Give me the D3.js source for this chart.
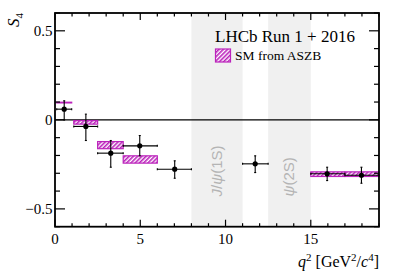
<!DOCTYPE html>
<html><head><meta charset="utf-8">
<script src="https://cdn.jsdelivr.net/npm/d3@7"></script>
<style>body{margin:0;background:#fff}</style>
</head><body>
<svg id="c" width="399" height="271"></svg>
<script>
// Data (LHCb S4 vs q^2)
const binLo = [0.1, 1.1, 2.5, 4.0, 6.0, 11.0, 15.0, 17.0];
const binHi = [0.98, 2.5, 4.0, 6.0, 8.0, 12.5, 17.0, 19.0];
const xMean = [0.54, 1.81, 3.27, 4.97, 7.02, 11.74, 15.96, 17.97];
const s4 = [0.060, -0.037, -0.187, -0.146, -0.277, -0.247, -0.303, -0.311];
const errHi = [0.047, 0.069, 0.071, 0.058, 0.047, 0.045, 0.037, 0.045];
const errLo = [0.060, 0.079, 0.079, 0.056, 0.051, 0.049, 0.038, 0.045];
// SM prediction (ASZB)
const smLo = [0.1, 1.1, 2.5, 4.0, 15.0, 17.0];
const smHi = [0.98, 2.5, 4.0, 6.0, 17.0, 19.0];
const smBot = [0.095, -0.024, -0.162, -0.243, -0.318, -0.318];
const smTop = [0.099, -0.004, -0.122, -0.202, -0.292, -0.292];
// Vetoed resonance regions
const vetoLo = [8.0, 12.5];
const vetoHi = [11.0, 15.0];
const vetoLabel = ["J/ψ(1S)", "ψ(2S)"];
const xTicks = [0, 5, 10, 15];
const yTicks = [-0.5, 0, 0.5];

const svg = d3.select("#c");
const L = 55, T = 13, R = 379, B = 226.7;
const x = d3.scaleLinear().domain([0, 19]).range([L, R]);
const y = d3.scaleLinear().domain([-0.6, 0.6]).range([B, T]);
const mag = "#bb22bb";

const defs = svg.append("defs");
const pat = defs.append("pattern").attr("id", "hatch").attr("patternUnits", "userSpaceOnUse")
  .attr("width", 3).attr("height", 3).attr("patternTransform", "rotate(45)");
pat.append("rect").attr("width", 3).attr("height", 3).attr("fill", "#fff");
pat.append("rect").attr("width", 1.6).attr("height", 3).attr("fill", mag);

// veto bands
vetoLo.forEach((v, i) => {
  svg.append("rect").attr("x", x(v)).attr("y", T).attr("width", x(vetoHi[i]) - x(v))
    .attr("height", B - T).attr("fill", "#f0f0f0");
  const cx = (x(v) + x(vetoHi[i])) / 2;
  const t = svg.append("text").attr("transform", `translate(${cx + 5},${y(-0.43)}) rotate(-90)`)
    .attr("font-family", "Liberation Sans, Arial, sans-serif").attr("font-size", 15)
    .attr("fill", "#b4b4b4").attr("text-anchor", "start");
  if (i === 0) {
    t.append("tspan").attr("font-style", "italic").text("J");
    t.append("tspan").text("/");
    t.append("tspan").attr("font-style", "italic").text("ψ");
    t.append("tspan").text("(1S)");
  } else {
    t.append("tspan").attr("font-style", "italic").text("ψ");
    t.append("tspan").text("(2S)");
  }
});

// zero line
svg.append("line").attr("x1", L).attr("x2", R).attr("y1", y(0)).attr("y2", y(0))
  .attr("stroke", "#000").attr("stroke-width", 1.4);

// SM boxes
smLo.forEach((v, i) => {
  svg.append("rect").attr("x", x(v)).attr("y", y(smTop[i]))
    .attr("width", x(smHi[i]) - x(v)).attr("height", Math.max(0.5, y(smBot[i]) - y(smTop[i])))
    .attr("fill", "url(#hatch)").attr("stroke", mag).attr("stroke-width", 1.2);
});

// data points
const g = svg.append("g").attr("stroke", "#000").attr("stroke-width", 1.1);
s4.forEach((v, i) => {
  g.append("line").attr("x1", x(binLo[i])).attr("x2", x(binHi[i])).attr("y1", y(v)).attr("y2", y(v));
  g.append("line").attr("x1", x(xMean[i])).attr("x2", x(xMean[i]))
    .attr("y1", y(v + errHi[i])).attr("y2", y(v - errLo[i]));
  [binLo[i], binHi[i]].forEach(b => g.append("line").attr("x1", x(b)).attr("x2", x(b))
    .attr("y1", y(v) - 1).attr("y2", y(v) + 1));
  [v + errHi[i], v - errLo[i]].forEach(e => g.append("line").attr("x1", x(xMean[i]) - 1)
    .attr("x2", x(xMean[i]) + 1).attr("y1", y(e)).attr("y2", y(e)));
  svg.append("circle").attr("cx", x(xMean[i])).attr("cy", y(v)).attr("r", 2.6).attr("fill", "#000");
});

// frame
svg.append("rect").attr("x", L).attr("y", T).attr("width", R - L).attr("height", B - T)
  .attr("fill", "none").attr("stroke", "#000").attr("stroke-width", 1.8);

// ticks (inward, all four sides)
const tk = svg.append("g").attr("stroke", "#000").attr("stroke-width", 1.2);
d3.range(0, 19.01, 1).forEach(v => {
  const major = xTicks.includes(v);
  const len = major ? 7 : 3.5;
  tk.append("line").attr("x1", x(v)).attr("x2", x(v)).attr("y1", B).attr("y2", B - len);
  tk.append("line").attr("x1", x(v)).attr("x2", x(v)).attr("y1", T).attr("y2", T + len);
});
d3.range(-6, 7, 1).forEach(k => {
  const v = k / 10;
  const major = (k % 5 === 0);
  const len = major ? 10 : 5;
  tk.append("line").attr("x1", L).attr("x2", L + len).attr("y1", y(v)).attr("y2", y(v));
  tk.append("line").attr("x1", R).attr("x2", R - len).attr("y1", y(v)).attr("y2", y(v));
});

const serif = "Liberation Serif, Times New Roman, serif";
// tick labels
xTicks.forEach(v => svg.append("text").attr("x", x(v)).attr("y", 243.5)
  .attr("text-anchor", "middle").attr("font-family", serif).attr("font-size", 15).text(v));
yTicks.forEach(v => svg.append("text").attr("x", 52.5).attr("y", y(v)).attr("dy", "0.33em")
  .attr("text-anchor", "end").attr("font-family", serif).attr("font-size", 15)
  .text(v === 0 ? "0" : (v < 0 ? "\u22120.5" : "0.5")));

// axis titles
const xt = svg.append("text").attr("x", R).attr("y", 267).attr("text-anchor", "end")
  .attr("font-family", serif).attr("font-size", 16);
xt.append("tspan").attr("font-style", "italic").text("q");
xt.append("tspan").attr("font-size", 11).attr("dy", -6).text("2");
xt.append("tspan").attr("dy", 6).text(" [GeV");
xt.append("tspan").attr("font-size", 11).attr("dy", -6).text("2");
xt.append("tspan").attr("dy", 6).text("/");
xt.append("tspan").attr("font-style", "italic").text("c");
xt.append("tspan").attr("font-size", 11).attr("dy", -6).text("4");
xt.append("tspan").attr("dy", 6).text("]");

const yt = svg.append("text").attr("transform", `translate(18.5,13) rotate(-90)`)
  .attr("text-anchor", "end").attr("font-family", serif).attr("font-size", 17);
yt.append("tspan").attr("font-style", "italic").text("S");
yt.append("tspan").attr("font-size", 11).attr("dy", 4).text("4");

// labels / legend
svg.append("text").attr("x", 215).attr("y", 41.7).attr("font-family", serif)
  .attr("font-size", 17).text("LHCb Run 1 + 2016");
svg.append("rect").attr("x", 215.5).attr("y", 49).attr("width", 15).attr("height", 13)
  .attr("fill", "url(#hatch)").attr("stroke", mag).attr("stroke-width", 1.2);
svg.append("text").attr("x", 235).attr("y", 60).attr("font-family", serif)
  .attr("font-size", 13.5).text("SM from ASZB");
</script>
</body></html>
